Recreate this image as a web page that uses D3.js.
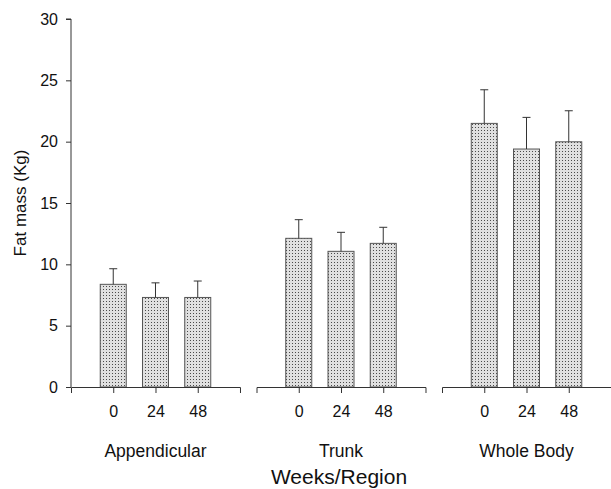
<!DOCTYPE html>
<html>
<head>
<meta charset="utf-8">
<script src="https://cdn.jsdelivr.net/npm/d3@7"></script>
<style>
body{margin:0;background:#fff;}
text{font-family:"Liberation Sans",Arial,sans-serif;fill:#111;}
</style>
</head>
<body>
<svg id="chart" width="611" height="489"></svg>
<script>
const regions = ["Appendicular", "Trunk", "Whole Body"];
const weeks = ["0", "24", "48"];
const appendicularMean = [8.37, 7.30, 7.30];
const appendicularSD = [1.27, 1.19, 1.34];
const trunkMean = [12.12, 11.06, 11.71];
const trunkSD = [1.52, 1.55, 1.31];
const wholeBodyMean = [21.49, 19.40, 19.99];
const wholeBodySD = [2.74, 2.58, 2.53];
const yTicks = [0, 5, 10, 15, 20, 25, 30];

const means = [appendicularMean, trunkMean, wholeBodyMean];
const sds = [appendicularSD, trunkSD, wholeBodySD];
const data = [];
regions.forEach((r, i) => weeks.forEach((w, j) => data.push({region: r, week: w, mean: means[i][j], sd: sds[i][j]})));

const svg = d3.select("#chart");
const y = d3.scaleLinear().domain([0, 30]).range([387, 19]);
const xRegion = d3.scaleBand().domain(regions).range([71, 611]).paddingInner(0.089).paddingOuter(0);
const xWeek = d3.scalePoint().domain(weeks).range([0, xRegion.bandwidth()]).padding(1);
const barW = 26;
const axisColor = "#333";
const fontFam = "'Liberation Sans',Arial,sans-serif";

const defs = svg.append("defs");
const pat = defs.append("pattern").attr("id", "dots").attr("patternUnits", "userSpaceOnUse")
  .attr("width", 3).attr("height", 3);
pat.append("rect").attr("width", 3).attr("height", 3).attr("fill", "#e0e0e0");
pat.append("rect").attr("x", 1).attr("y", 1).attr("width", 1).attr("height", 1).attr("fill", "#4a4a4a");

// Y axis
const yAxis = svg.append("g").attr("transform", "translate(71,0)")
  .call(d3.axisLeft(y).tickValues(yTicks).tickSize(5).tickPadding(8));
yAxis.select(".domain").attr("stroke", axisColor).attr("d", `M-5,${y(30)}H0V${y(0)}`);
yAxis.selectAll(".tick line").attr("stroke", axisColor);
yAxis.selectAll(".tick text").attr("font-size", 16).attr("fill", "#111").attr("font-family", fontFam);

// Bars
const cx = d => xRegion(d.region) + xWeek(d.week);
svg.append("g").selectAll("rect").data(data).join("rect")
  .attr("x", d => cx(d) - barW / 2)
  .attr("y", d => y(d.mean))
  .attr("width", barW)
  .attr("height", d => y(0) - y(d.mean))
  .attr("fill", "url(#dots)")
  .attr("stroke", "#555").attr("stroke-width", 1);

// Error bars
const eb = svg.append("g").attr("stroke", "#333").attr("stroke-width", 1);
eb.selectAll("line.v").data(data).join("line").attr("class", "v")
  .attr("x1", cx).attr("x2", cx)
  .attr("y1", d => y(d.mean)).attr("y2", d => y(d.mean + d.sd));
eb.selectAll("line.c").data(data).join("line").attr("class", "c")
  .attr("x1", d => cx(d) - 4).attr("x2", d => cx(d) + 4)
  .attr("y1", d => y(d.mean + d.sd)).attr("y2", d => y(d.mean + d.sd));

// Panel x axes
regions.forEach(r => {
  const g = svg.append("g").attr("transform", `translate(${xRegion(r)},${y(0)})`);
  const ax = d3.axisBottom(xWeek).tickSize(6).tickPadding(13).tickSizeOuter(6);
  g.call(ax);
  g.select(".domain").attr("stroke", axisColor);
  g.selectAll(".tick line").attr("stroke", axisColor);
  g.selectAll(".tick text").attr("font-size", 16).attr("fill", "#111").attr("font-family", fontFam);
  svg.append("text").attr("x", xRegion(r) + xWeek("24")).attr("y", 457)
    .attr("text-anchor", "middle").attr("font-size", 17.5).text(r);
});

// Titles
svg.append("text").attr("x", xRegion("Trunk") + xWeek("24") - 2).attr("y", 484)
  .attr("text-anchor", "middle").attr("font-size", 21).text("Weeks/Region");
svg.append("text").attr("transform", "translate(26,203) rotate(-90)")
  .attr("text-anchor", "middle").attr("font-size", 17).text("Fat mass (Kg)");
</script>
</body>
</html>
